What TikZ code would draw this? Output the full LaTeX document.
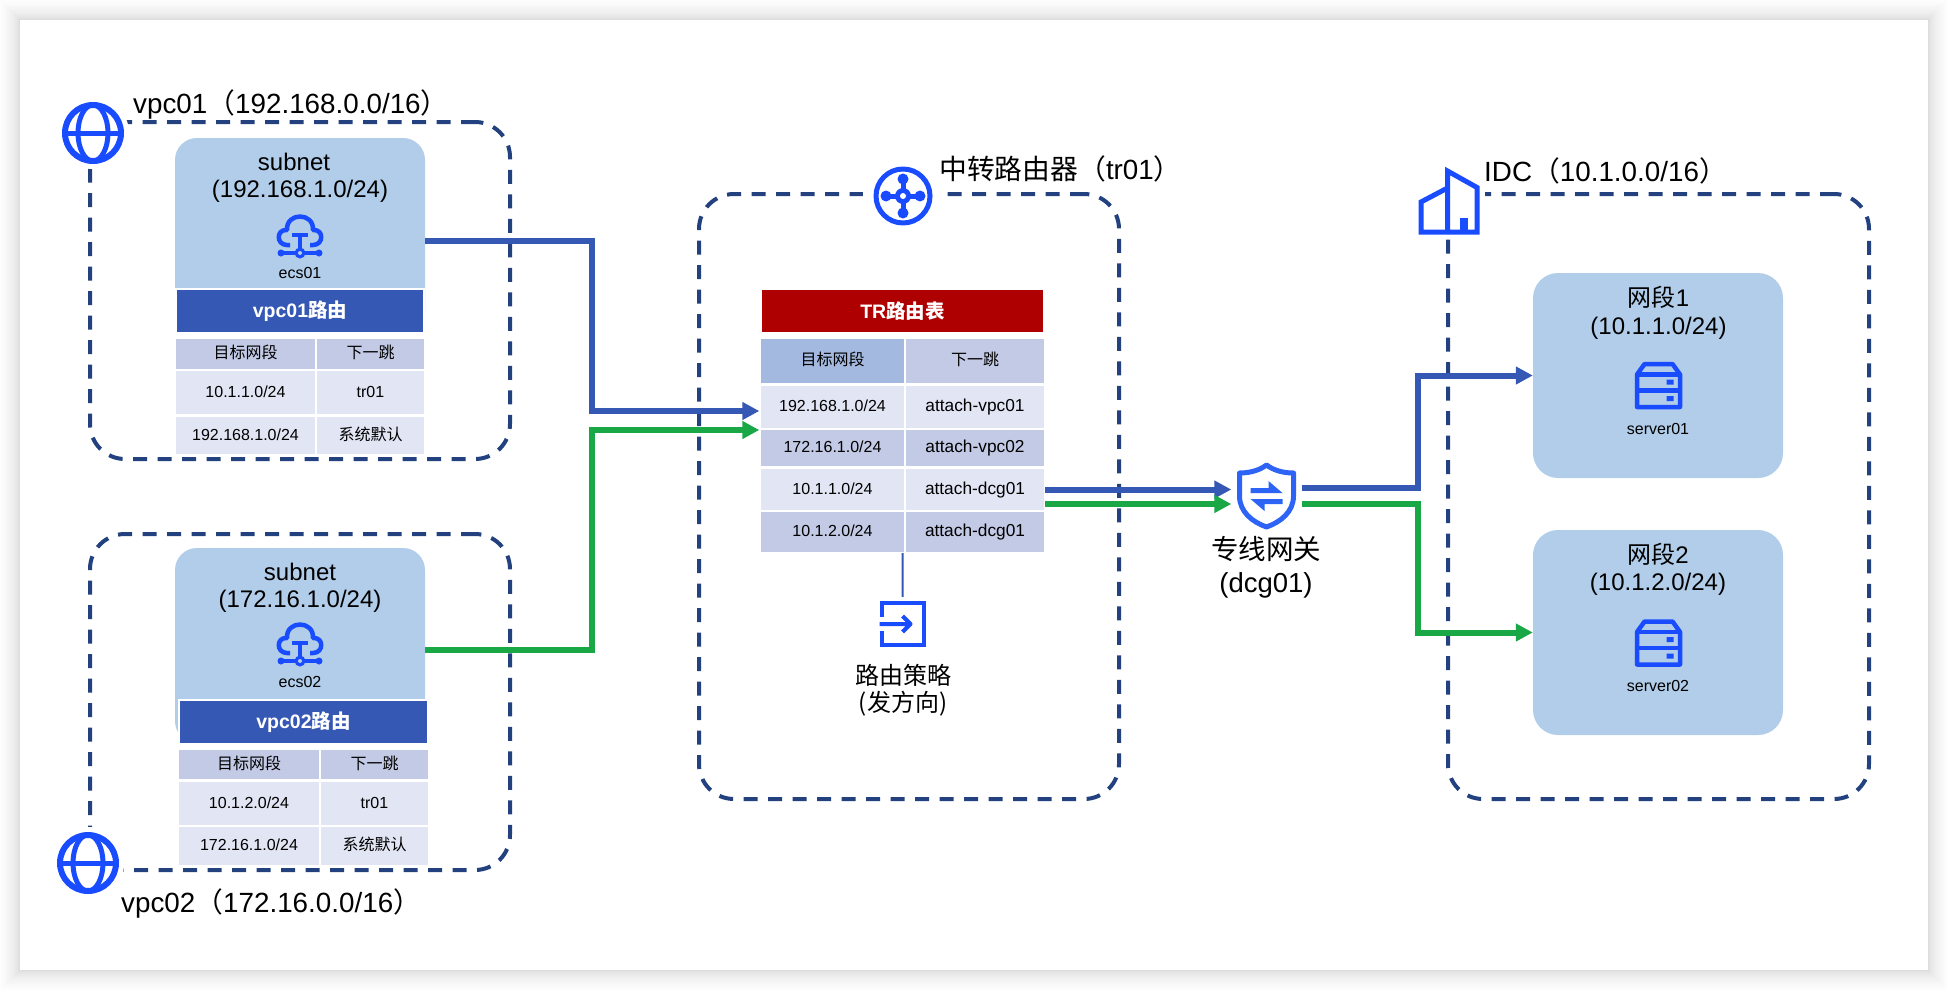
\documentclass[tikz,border=0pt]{standalone}
\usepackage{fontspec}
\setmainfont{Liberation Sans}
\newfontfamily\cjk{Noto Sans CJK SC}
\usetikzlibrary{arrows.meta}
\definecolor{dashblue}{HTML}{23417F}
\definecolor{iconblue}{HTML}{1A4CFF}
\definecolor{shieldblue}{HTML}{2E64F6}
\definecolor{routeblue}{HTML}{3558B5}
\definecolor{routegreen}{HTML}{1AA846}
\definecolor{routered}{HTML}{AE0000}
\definecolor{subnetfill}{HTML}{B1CDE9}
\definecolor{celldark}{HTML}{C3CAE5}
\definecolor{celllight}{HTML}{E2E6F4}
\definecolor{cellhead}{HTML}{A3B9DF}
\tikzset{
    dashbox/.style={draw=dashblue, line width=4pt, dash pattern=on 14pt off 10.5pt, rounded corners=35pt, inner sep=0pt},
    subnetbox/.style={fill=subnetfill, rounded corners=22pt, inner sep=0pt, minimum width=250pt},
    segbox/.style={fill=subnetfill, rounded corners=25pt, inner sep=0pt, minimum width=250pt, minimum height=205pt},
    biglabel/.style={font=\fontsize{27.8}{30}\selectfont, inner sep=0pt},
    midlabel/.style={font=\fontsize{24}{27.5}\selectfont, inner sep=0pt, align=center},
    smalllabel/.style={font=\fontsize{16}{18}\selectfont, inner sep=0pt},
    tablehead/.style={font=\fontsize{19.5}{20}\bfseries\selectfont, text=white, inner sep=0pt, draw=white, line width=2pt, minimum height=44pt},
    tablecell/.style={font=\fontsize{16}{18}\selectfont, inner sep=0pt, text height=12pt, text depth=3pt},
    attachcell/.style={tablecell, font=\fontsize{17.3}{18}\selectfont},
    iconslot/.style={inner sep=0pt},
    iconline/.style={draw=iconblue, line width=5pt, line join=round},
    blueroute/.style={draw=routeblue, line width=6pt, -{Triangle[length=17pt,width=17pt]}},
    greenroute/.style={draw=routegreen, line width=6pt, -{Triangle[length=17pt,width=17pt]}},
    globeicon/.pic={
        \fill[white] (0,0) circle (36);
        \draw[iconline, line width=6pt] (0,0) circle (28);
        \draw[iconline] (0,0) ellipse (15 and 28);
        \draw[iconline] (-28,0) -- (28,0);
    },
    routericon/.pic={
        \fill[white] (0,0) circle (40);
        \draw[iconline] (0,0) circle (27);
        \draw[iconline] (0,-17) -- (0,17);
        \draw[iconline] (-17,0) -- (17,0);
        \fill[iconblue] (0,-17) circle (5.5) (0,17) circle (5.5) (-17,0) circle (5.5) (17,0) circle (5.5) (0,0) circle (8);
        \fill[white] (0,0) circle (3);
    },
    cloudicon/.pic={
        \draw[iconline, line width=4.5pt] (-10,8) -- (-13,8) .. controls (-24,8) and (-24,-8) .. (-13,-7) .. controls (-14,-25) and (14,-25) .. (13,-7) .. controls (24,-8) and (24,8) .. (13,8) -- (10,8);
        \draw[iconline, line width=4.5pt] (-8,-2) -- (8,-2) (0,-2) -- (0,13);
        \draw[iconline, line width=4.5pt] (-19,16) -- (19,16);
        \fill[iconblue] (-19,16) circle (3.5) (19,16) circle (3.5) (0,16) circle (5.5);
        \fill[subnetfill] (0,16) circle (2);
    },
    policyicon/.pic={
        \draw[iconline, line width=4pt, line join=miter] (-21,-7) -- (-21,-21) -- (21,-21) -- (21,21) -- (-21,21) -- (-21,7);
        \draw[iconline, line width=4pt] (-23,0) -- (7,0) (0,-8) -- (8,0) -- (0,8);
    },
    shieldicon/.pic={
        \draw[draw=shieldblue, line width=5pt, line join=round] (0,-31) .. controls (-8,-25) and (-18,-23) .. (-27,-23) -- (-27,0) .. controls (-27,16) and (-14,26) .. (0,31) .. controls (14,26) and (27,16) .. (27,0) -- (27,-23) .. controls (18,-23) and (8,-25) .. cycle;
        \fill[shieldblue] (-16,-8) -- (2,-8) -- (2,-15) -- (16,-3) -- (-16,-3) -- cycle;
        \fill[shieldblue] (16,8) -- (-2,8) -- (-2,15) -- (-16,3) -- (16,3) -- cycle;
    },
    idcicon/.pic={
        \fill[white] (-34,-36) rectangle (36,36);
        \draw[iconline, line join=miter] (-1.5,32) -- (-1.5,-29) -- (28,-12.5) -- (28,32) -- (-28,32) -- (-28,2) -- (-1.5,-12);
        \fill[iconblue] (10.5,18) rectangle (18.5,30);
    },
    servericon/.pic={
        \draw[iconline, line width=4.5pt] (-21.5,21.5) -- (-21.5,-11) -- (-14,-21.5) -- (14,-21.5) -- (21.5,-11) -- (21.5,21.5) -- cycle;
        \draw[iconline, line width=4.5pt] (-21.5,-11) -- (21.5,-11) (-21.5,5) -- (21.5,5);
        \fill[iconblue] (8,-6) rectangle (15,-1) (8,10.5) rectangle (15,15.5);
    }
}
\begin{document}
\begin{tikzpicture}[x=1pt, y=-1pt]
    \useasboundingbox (0,0) rectangle (1948,990);
    \fill[white] (0,0) rectangle (1948,990);
    % sheet with its soft edge
    \foreach \s in {1,...,20}
        \fill[black, opacity=0.009] (20-\s*\s/20,20-\s*\s/20) rectangle (1928+\s*\s/20,970+\s*\s/20);
    \fill[white] (20,20) rectangle (1928,970);

    % dashed areas
    \node[dashbox, minimum width=420pt, minimum height=337pt] (vpc01) at (300,290.5) {};
    \node[dashbox, minimum width=420pt, minimum height=336pt] (vpc02) at (300,702) {};
    \node[dashbox, minimum width=420pt, minimum height=605pt] (tr01) at (909,496.5) {};
    \node[dashbox, minimum width=421pt, minimum height=605pt] (idc) at (1658.5,496.5) {};

    \pic at (93,133) {globeicon};
    \pic at (88,863) {globeicon};
    \pic at (903,196) {routericon};
    \pic at (1449,200) {idcicon};

    \node[biglabel, anchor=west] (vpc01label) at (133,104) {vpc01{\cjk（}192.168.0.0/16{\cjk）}};
    \node[biglabel, anchor=west] (vpc02label) at (121,903) {vpc02{\cjk（}172.16.0.0/16{\cjk）}};
    \node[biglabel, anchor=west] (tr01label) at (939,169) {{\cjk 中转路由器（}tr01{\cjk）}};
    \node[biglabel, anchor=west] (idclabel) at (1484,171) {IDC{\cjk（}10.1.0.0/16{\cjk）}};

    % subnets
    \node[subnetbox, minimum height=195pt] (subnet01) at (300,235.5) {};
    \node[midlabel] (subnet01label) at (300,178) {subnet\hspace*{12pt}\\(192.168.1.0/24)};
    \pic at (300,237) {cloudicon};
    \node[smalllabel] (ecs01) at (300,273) {ecs01};

    \node[subnetbox, minimum height=195pt] (subnet02) at (300,645.5) {};
    \node[midlabel] (subnet02label) at (300,588) {subnet\\(172.16.1.0/24)};
    \pic at (300,645) {cloudicon};
    \node[smalllabel] (ecs02) at (300,682) {ecs02};

    % vpc01 table
    \node[tablehead, fill=routeblue, minimum width=248pt] (vpc01head) at (300,311) {vpc01{\cjk 路由}};
    \node[tablecell, fill=celldark, minimum width=139pt, minimum height=30pt] (a11) at (245.5,354) {\cjk 目标网段};
    \node[tablecell, fill=celldark, minimum width=107pt, minimum height=30pt] (a12) at (370.5,354) {\cjk 下一跳};
    \node[tablecell, fill=celllight, minimum width=139pt, minimum height=43pt] (a21) at (245.5,392.5) {10.1.1.0/24};
    \node[tablecell, fill=celllight, minimum width=107pt, minimum height=43pt] (a22) at (370.5,392.5) {tr01};
    \node[tablecell, fill=celllight, minimum width=139pt, minimum height=37pt] (a31) at (245.5,435.5) {192.168.1.0/24};
    \node[tablecell, fill=celllight, minimum width=107pt, minimum height=37pt] (a32) at (370.5,435.5) {\cjk 系统默认};

    % vpc02 table
    \node[tablehead, fill=routeblue, minimum width=249pt] (vpc02head) at (303.5,722) {vpc02{\cjk 路由}};
    \node[tablecell, fill=celldark, minimum width=140pt, minimum height=29pt] (b11) at (249,764.5) {\cjk 目标网段};
    \node[tablecell, fill=celldark, minimum width=107pt, minimum height=29pt] (b12) at (374.5,764.5) {\cjk 下一跳};
    \node[tablecell, fill=celllight, minimum width=140pt, minimum height=43pt] (b21) at (249,803.5) {10.1.2.0/24};
    \node[tablecell, fill=celllight, minimum width=107pt, minimum height=43pt] (b22) at (374.5,803.5) {tr01};
    \node[tablecell, fill=celllight, minimum width=140pt, minimum height=38pt] (b31) at (249,846) {172.16.1.0/24};
    \node[tablecell, fill=celllight, minimum width=107pt, minimum height=38pt] (b32) at (374.5,846) {\cjk 系统默认};

    % transit router table
    \node[tablehead, fill=routered, minimum width=283pt] (trhead) at (902.5,311) {TR{\cjk 路由表}};
    \node[tablecell, fill=cellhead, minimum width=143pt, minimum height=44pt] (c11) at (832.5,361) {\cjk 目标网段};
    \node[tablecell, fill=celldark, minimum width=138pt, minimum height=44pt] (c12) at (975,361) {\cjk 下一跳};
    \node[tablecell, fill=celllight, minimum width=143pt, minimum height=42pt] (c21) at (832.5,407) {192.168.1.0/24};
    \node[attachcell, fill=celllight, minimum width=138pt, minimum height=42pt] (c22) at (975,407) {attach-vpc01};
    \node[tablecell, fill=celldark, minimum width=143pt, minimum height=36pt] (c31) at (832.5,448) {172.16.1.0/24};
    \node[attachcell, fill=celldark, minimum width=138pt, minimum height=36pt] (c32) at (975,448) {attach-vpc02};
    \node[tablecell, fill=celllight, minimum width=143pt, minimum height=41pt] (c41) at (832.5,489.5) {10.1.1.0/24};
    \node[attachcell, fill=celllight, minimum width=138pt, minimum height=41pt] (c42) at (975,489.5) {attach-dcg01};
    \node[tablecell, fill=celldark, minimum width=143pt, minimum height=40pt] (c51) at (832.5,532) {10.1.2.0/24};
    \node[attachcell, fill=celldark, minimum width=138pt, minimum height=40pt] (c52) at (975,532) {attach-dcg01};

    % route policy and gateway
    \node[iconslot, minimum size=54pt] (policy) at (902.5,624) {};
    \pic at (policy) {policyicon};
    \node[midlabel, font=\fontsize{24}{27}\cjk] (policylabel) at (903,690) {路由策略\\(发方向)};
    \node[iconslot, minimum width=70pt, minimum height=70pt] (dcg01) at (1266.5,496) {};
    \pic at (dcg01) {shieldicon};
    \node[midlabel, font=\fontsize{27.5}{33}\selectfont] (dcg01label) at (1266,567) {{\cjk 专线网关}\\(dcg01)};

    % idc segments
    \node[segbox] (seg01) at (1658,375.5) {};
    \node[midlabel] (seg01label) at (1658.5,313) {{\cjk 网段}1\\(10.1.1.0/24)};
    \pic at (1658.5,385.5) {servericon};
    \node[smalllabel] (server01) at (1658,429) {server01};
    \node[segbox] (seg02) at (1658,632.5) {};
    \node[midlabel] (seg02label) at (1658,569.5) {{\cjk 网段}2\\(10.1.2.0/24)};
    \pic at (1658.5,643) {servericon};
    \node[smalllabel] (server02) at (1658,686) {server02};

    % routes
    \draw[blueroute] ([yshift=-5.5pt]subnet01.east) -- ++(167,0) |- ([xshift=-1.5pt,yshift=-4pt]c21.west);
    \draw[greenroute] ([yshift=-4.5pt]subnet02.east) -- ++(167,0) |- ([xshift=-1.5pt,yshift=18pt]c31.west);
    \draw[blueroute] ([xshift=1pt]c42.east) -- ([yshift=6.5pt]dcg01.west);
    \draw[greenroute] ([xshift=1pt,yshift=-14.5pt]c42.east) -- ([yshift=-8pt]dcg01.west);
    \draw[blueroute] ([yshift=8pt]dcg01.east) -- ++(116,0) |- (seg01.west);
    \draw[greenroute] ([yshift=-8pt]dcg01.east) -- ++(116,0) |- (seg02.west);
    \draw[routeblue, line width=2pt] ([xshift=-1.5pt,yshift=-1pt]c51.south east) -- (policy.north);
\end{tikzpicture}
\end{document}
